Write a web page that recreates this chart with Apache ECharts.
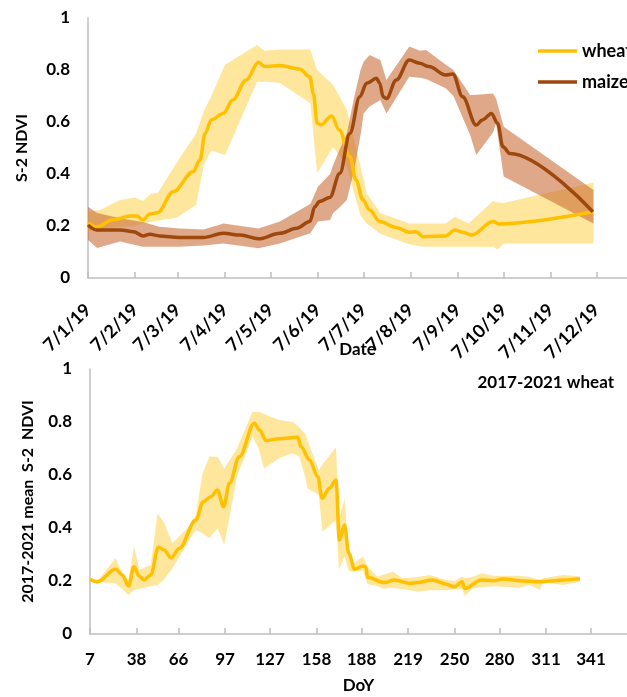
<!DOCTYPE html>
<html>
<head>
<meta charset="utf-8">
<script src="https://cdn.jsdelivr.net/npm/echarts@6/dist/echarts.min.js"></script>
<style>
  html, body { margin: 0; padding: 0; background: #ffffff; }
  #chart { width: 627px; height: 697px; }
</style>
</head>
<body>
<div id="chart"></div>
<script>
// Month ticks as day-of-year (7th of each month in 2019 for the top panel, DoY for the bottom)
const monthTickDays = [7, 38, 66, 97, 127, 158, 188, 219, 250, 280, 311, 341];
const dateTickLabels = ['7/1/19', '7/2/19', '7/3/19', '7/4/19', '7/5/19', '7/6/19',
  '7/7/19', '7/8/19', '7/9/19', '7/10/19', '7/11/19', '7/12/19'];
const doyTickLabels = ['7', '38', '66', '97', '127', '158', '188', '219', '250', '280', '311', '341'];

// 2019 wheat mean NDVI: [day of year, NDVI]
const wheat2019 = [
  [7, 0.213], [12.7, 0.196], [23, 0.223], [34.6, 0.238], [39, 0.238], [43, 0.223],
  [47.7, 0.246], [52.5, 0.251], [63, 0.332], [76, 0.409], [80.5, 0.454], [84, 0.557],
  [88, 0.608], [96, 0.634], [102, 0.685], [111, 0.762], [119, 0.83], [123, 0.813],
  [133, 0.817], [146, 0.804], [152.7, 0.774], [155, 0.71], [157.5, 0.595], [160, 0.59],
  [167, 0.623], [172, 0.569], [179, 0.467], [183, 0.377], [187.6, 0.3], [192, 0.262],
  [198.6, 0.217], [209.5, 0.194], [218, 0.176], [222.6, 0.178], [227, 0.159], [242, 0.162],
  [248, 0.185], [253, 0.176], [259, 0.165], [273, 0.217], [277, 0.208], [338.6, 0.255]
];
// 2019 wheat spread: [day of year, low, high]
const wheat2019Band = [
  [7, 0.18, 0.255], [15, 0.19, 0.262], [28, 0.197, 0.30], [38, 0.20, 0.31], [43, 0.21, 0.296],
  [48, 0.215, 0.323], [53, 0.22, 0.328], [65, 0.232, 0.441], [78, 0.281, 0.556],
  [83, 0.435, 0.64], [88, 0.49, 0.70], [97, 0.473, 0.82], [118, 0.755, 0.896],
  [123, 0.755, 0.874], [133, 0.751, 0.879], [153, 0.672, 0.879], [157.5, 0.403, 0.80],
  [168, 0.505, 0.742], [177, 0.428, 0.646], [186, 0.24, 0.43], [190, 0.21, 0.326],
  [199, 0.17, 0.25], [218, 0.13, 0.21], [227, 0.12, 0.21], [242, 0.12, 0.21],
  [248, 0.12, 0.236], [257, 0.12, 0.21], [273, 0.12, 0.296], [276, 0.11, 0.29],
  [280, 0.133, 0.288], [339, 0.133, 0.367]
];

// 2019 maize mean NDVI: [day of year, NDVI]
const maize2019 = [
  [7, 0.204], [12.7, 0.185], [28, 0.185], [37, 0.178], [43, 0.162], [47.7, 0.168],
  [54, 0.162], [67, 0.156], [82.7, 0.156], [96, 0.172], [107, 0.165], [119, 0.151],
  [133, 0.172], [144, 0.191], [152.7, 0.217], [156, 0.274], [159, 0.294], [165.8, 0.31],
  [172.4, 0.403], [179, 0.556], [185.5, 0.697], [190, 0.749], [196.5, 0.768], [198.6, 0.749],
  [200.8, 0.697], [203, 0.69], [209.5, 0.762], [218, 0.838], [224.8, 0.826], [231, 0.813],
  [242, 0.781], [246.6, 0.785], [253, 0.697], [262, 0.588], [266, 0.608], [272, 0.633],
  [276, 0.595], [279.5, 0.505], [284, 0.479], [338.6, 0.255]
];
// 2019 maize spread: [day of year, low, high]
const maize2019Band = [
  [7, 0.146, 0.274], [13, 0.115, 0.25], [28, 0.14, 0.23], [43, 0.12, 0.215], [54, 0.12, 0.197],
  [67, 0.12, 0.19], [83, 0.125, 0.187], [96, 0.133, 0.21], [119, 0.114, 0.19],
  [133, 0.133, 0.217], [153, 0.172, 0.285], [158, 0.217, 0.351], [166, 0.223, 0.40],
  [168, 0.25, 0.435], [172, 0.27, 0.49], [177, 0.30, 0.556], [182, 0.42, 0.70],
  [186, 0.55, 0.80], [188, 0.633, 0.832], [192, 0.66, 0.858], [199, 0.685, 0.838],
  [203, 0.633, 0.762], [218, 0.774, 0.89], [225, 0.77, 0.874], [229, 0.765, 0.877],
  [242, 0.73, 0.82], [247, 0.70, 0.80], [258, 0.55, 0.704], [262, 0.473, 0.705],
  [273, 0.56, 0.71], [275, 0.595, 0.69], [280, 0.39, 0.582], [339, 0.21, 0.338]
];

// 2017-2021 mean wheat NDVI: [DoY, NDVI]
const wheatMean = [
  [7, 0.206], [12, 0.197], [24, 0.244], [28.6, 0.223], [32.6, 0.181], [36.4, 0.254],
  [39.7, 0.219], [43, 0.204], [47.5, 0.223], [52.6, 0.327], [56.4, 0.317], [61, 0.288],
  [66.5, 0.323], [77.6, 0.43], [82.5, 0.499], [87.6, 0.518], [92, 0.543], [96, 0.48],
  [100, 0.569], [106.5, 0.669], [116.6, 0.795], [120, 0.77], [124.4, 0.73], [133, 0.737],
  [145.5, 0.742], [147.7, 0.707], [153.3, 0.657], [158.8, 0.594], [161.8, 0.512],
  [166.6, 0.55], [171, 0.581], [173.3, 0.355], [176.7, 0.411], [179.5, 0.305],
  [183.4, 0.244], [189, 0.257], [191, 0.252], [192, 0.214], [203, 0.194], [210, 0.204],
  [220, 0.191], [225, 0.194], [235.6, 0.204], [244, 0.189], [250, 0.178], [255, 0.197],
  [256.8, 0.172], [268, 0.204], [276, 0.201], [282.4, 0.208], [293.6, 0.201], [307, 0.197],
  [313.6, 0.2], [322.5, 0.204], [333.6, 0.209]
];
// 2017-2021 wheat spread: [DoY, low, high]
const wheatMeanBand = [
  [7, 0.206, 0.206], [12, 0.197, 0.20], [24, 0.191, 0.286], [28.6, 0.17, 0.23],
  [32.6, 0.147, 0.204], [36.4, 0.166, 0.329], [40, 0.17, 0.242], [47.5, 0.18, 0.26],
  [52, 0.184, 0.455], [56, 0.204, 0.424], [62, 0.248, 0.342], [75, 0.37, 0.418],
  [77.6, 0.392, 0.45], [82, 0.38, 0.606], [86.5, 0.361, 0.669], [92, 0.399, 0.669],
  [96.5, 0.336, 0.625], [105, 0.594, 0.70], [115.4, 0.745, 0.839], [119.4, 0.70, 0.839],
  [123, 0.625, 0.83], [133, 0.663, 0.808], [142, 0.682, 0.80], [146.6, 0.669, 0.78],
  [151, 0.58, 0.751], [152, 0.55, 0.73], [159.5, 0.525, 0.619], [162, 0.386, 0.64],
  [171, 0.43, 0.705], [173, 0.242, 0.43], [176.7, 0.292, 0.512], [179.5, 0.24, 0.30],
  [182, 0.235, 0.263], [189, 0.24, 0.292], [192, 0.189, 0.255], [198.6, 0.18, 0.216],
  [203, 0.172, 0.225], [209, 0.175, 0.235], [215, 0.17, 0.21], [225, 0.16, 0.215],
  [233.5, 0.165, 0.223], [244, 0.165, 0.204], [250, 0.169, 0.20], [255, 0.17, 0.216],
  [257, 0.143, 0.21], [262, 0.172, 0.215], [268, 0.176, 0.229], [276, 0.18, 0.22],
  [293.6, 0.175, 0.22], [300, 0.185, 0.215], [307, 0.166, 0.204], [309, 0.195, 0.21],
  [322.5, 0.185, 0.223], [333.6, 0.197, 0.217]
];

const FONT = 'Lato';
const AXIS_GREY = '#BFBFBF';
const WHEAT = '#FFC000';
const WHEAT_BAND = 'rgba(255, 206, 60, 0.5)';
const MAIZE = '#9E480E';
const MAIZE_BAND = 'rgba(196, 98, 40, 0.55)';

const labelStyle = { color: '#000', fontFamily: FONT, fontWeight: 'bold', fontSize: 17 };

// Filled polygon between the low and high edges of a spread band
function bandSeries(name, band, fill, axisIndex, z) {
  return {
    type: 'custom', name: name, xAxisIndex: axisIndex, yAxisIndex: axisIndex,
    silent: true, z: z, clip: true,
    data: band, encode: { x: 0, y: [1, 2] },
    renderItem: function (params, api) {
      if (params.dataIndex !== 0) return null;
      const upper = band.map(function (d) { return api.coord([d[0], d[2]]); });
      const lower = band.map(function (d) { return api.coord([d[0], d[1]]); }).reverse();
      return { type: 'polygon', shape: { points: upper.concat(lower) }, style: { fill: fill } };
    }
  };
}

function lineSeries(name, data, color, axisIndex, z) {
  return {
    type: 'line', name: name, xAxisIndex: axisIndex, yAxisIndex: axisIndex,
    data: data, smooth: 0.35, smoothMonotone: 'x', symbol: 'none', z: z,
    lineStyle: { color: color, width: 3.5 }, itemStyle: { color: color },
    silent: true
  };
}

function xAxis(gridIndex, max, labels, rotate, name, nameGap) {
  return {
    type: 'value', gridIndex: gridIndex, min: 7, max: max,
    axisLine: { show: true, lineStyle: { color: AXIS_GREY, width: 1.5 } },
    axisTick: { show: true, inside: true, length: 6, customValues: monthTickDays,
      lineStyle: { color: AXIS_GREY, width: 1.5 } },
    axisLabel: Object.assign({}, labelStyle, {
      customValues: monthTickDays, rotate: rotate, margin: rotate ? 29 : 17,
      fontSize: rotate ? 18 : 17,
      formatter: function (v) { return labels[monthTickDays.indexOf(v)]; }
    }),
    splitLine: { show: false },
    name: name, nameLocation: 'middle', nameGap: nameGap, nameMoveOverlap: false,
    nameTextStyle: Object.assign({}, labelStyle, { fontSize: 17 })
  };
}

function yAxis(gridIndex, name, nameGap) {
  return {
    type: 'value', gridIndex: gridIndex, min: 0, max: 1, interval: 0.2,
    axisLine: { show: true, lineStyle: { color: AXIS_GREY, width: 1.5 } },
    axisTick: { show: false },
    axisLabel: Object.assign({}, labelStyle, { margin: 18 }),
    splitLine: { show: false },
    name: name, nameLocation: 'middle', nameRotate: 90, nameGap: nameGap, nameMoveOverlap: false,
    nameTextStyle: Object.assign({}, labelStyle, { fontSize: 16 })
  };
}

const chart = echarts.init(document.getElementById('chart'), null, { renderer: 'canvas' });
chart.setOption({
  animation: false,
  backgroundColor: '#ffffff',
  title: {
    text: '2017-2021 wheat', right: 8, top: 369,
    textStyle: Object.assign({}, labelStyle, { fontSize: 17 })
  },
  legend: {
    data: [
      { name: 'wheat', icon: 'rect' },
      { name: 'maize', icon: 'rect' }
    ],
    orient: 'vertical', left: 533, top: 37,
    itemWidth: 39, itemHeight: 3.5, itemGap: 13,
    textStyle: Object.assign({}, labelStyle, { fontSize: 18 })
  },
  grid: [
    { left: 88, top: 18, right: 0, height: 260 },
    { left: 90, top: 369, right: 0, height: 265 }
  ],
  xAxis: [
    xAxis(0, 361, dateTickLabels, 45, 'Date', 63),
    xAxis(1, 365, doyTickLabels, 0, 'DoY', 43)
  ],
  yAxis: [
    yAxis(0, 'S-2 NDVI', 58),
    yAxis(1, '2017-2021 mean  S-2  NDVI', 54)
  ],
  series: [
    bandSeries('wheat spread', wheat2019Band, WHEAT_BAND, 0, 1),
    bandSeries('maize spread', maize2019Band, MAIZE_BAND, 0, 2),
    lineSeries('wheat', wheat2019, WHEAT, 0, 3),
    lineSeries('maize', maize2019, MAIZE, 0, 4),
    bandSeries('wheat 2017-2021 spread', wheatMeanBand, WHEAT_BAND, 1, 1),
    lineSeries('wheat 2017-2021', wheatMean, WHEAT, 1, 3)
  ]
});
</script>
</body>
</html>
